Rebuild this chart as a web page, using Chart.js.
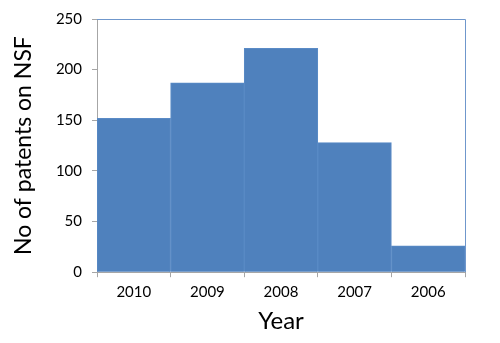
<!DOCTYPE html>
<html>
<head>
<meta charset="utf-8">
<script src="https://cdn.jsdelivr.net/npm/chart.js@4"></script>
<style>
  html, body { margin: 0; padding: 0; background: #fff; }
  #wrap { width: 500px; height: 343px; }
</style>
</head>
<body>
<div id="wrap"><canvas id="nsfChart"></canvas></div>
<script>
// Data
const years = ['2010', '2009', '2008', '2007', '2006'];
const patients = [152, 187, 221, 128, 26];
const yTicks = [0, 50, 100, 150, 200, 250];

const fontFamily = 'Lato, "Open Sans", sans-serif';
const axisGray = '#a6a6a6';

// top and right frame of the plot area, like the original
const frame = {
    id: 'frame',
    afterDraw(chart) {
        const { ctx, chartArea: a } = chart;
        ctx.save();
        ctx.strokeStyle = '#6f97cc';
        ctx.lineWidth = 1;
        ctx.beginPath();
        ctx.moveTo(a.left, a.top + 0.5);
        ctx.lineTo(a.right + 0.5, a.top + 0.5);
        ctx.lineTo(a.right + 0.5, a.bottom);
        ctx.stroke();
        ctx.restore();
    }
};

const ctx = document.getElementById('nsfChart').getContext('2d');
new Chart(ctx, {
    type: 'bar',
    data: {
        labels: years,
        datasets: [{
            data: patients,
            backgroundColor: '#4f81bd',
            borderColor: '#5a8bc6',
            borderWidth: 1,
            barPercentage: 1,
            categoryPercentage: 1
        }]
    },
    options: {
        responsive: true,
        maintainAspectRatio: false,
        animation: false,
        layout: { padding: { top: 6, right: 35, left: 10, bottom: 7 } },
        plugins: {
            legend: { display: false },
            tooltip: { enabled: false }
        },
        scales: {
            x: {
                grid: {
                    offset: true,
                    drawOnChartArea: false,
                    color: axisGray,
                    tickLength: 5
                },
                border: { color: axisGray },
                ticks: {
                    color: '#000',
                    font: { family: fontFamily, size: 15 },
                    padding: 6
                },
                title: {
                    display: true,
                    text: 'Year',
                    color: '#000',
                    font: { family: fontFamily, size: 24 },
                    padding: { top: 0, bottom: 0 }
                }
            },
            y: {
                min: 0,
                max: 250,
                afterBuildTicks(axis) {
                    axis.ticks = yTicks.map(v => ({ value: v }));
                },
                afterFit(axis) { axis.width = 87; },
                grid: {
                    drawOnChartArea: false,
                    color: axisGray,
                    tickLength: 5
                },
                border: { color: axisGray },
                ticks: {
                    color: '#000',
                    font: { family: fontFamily, size: 15 },
                    padding: 10
                },
                title: {
                    display: true,
                    text: 'No of patents on NSF',
                    color: '#000',
                    font: { family: fontFamily, size: 23 },
                    padding: { top: 0, bottom: 0 }
                }
            }
        }
    },
    plugins: [frame]
});
</script>
</body>
</html>
